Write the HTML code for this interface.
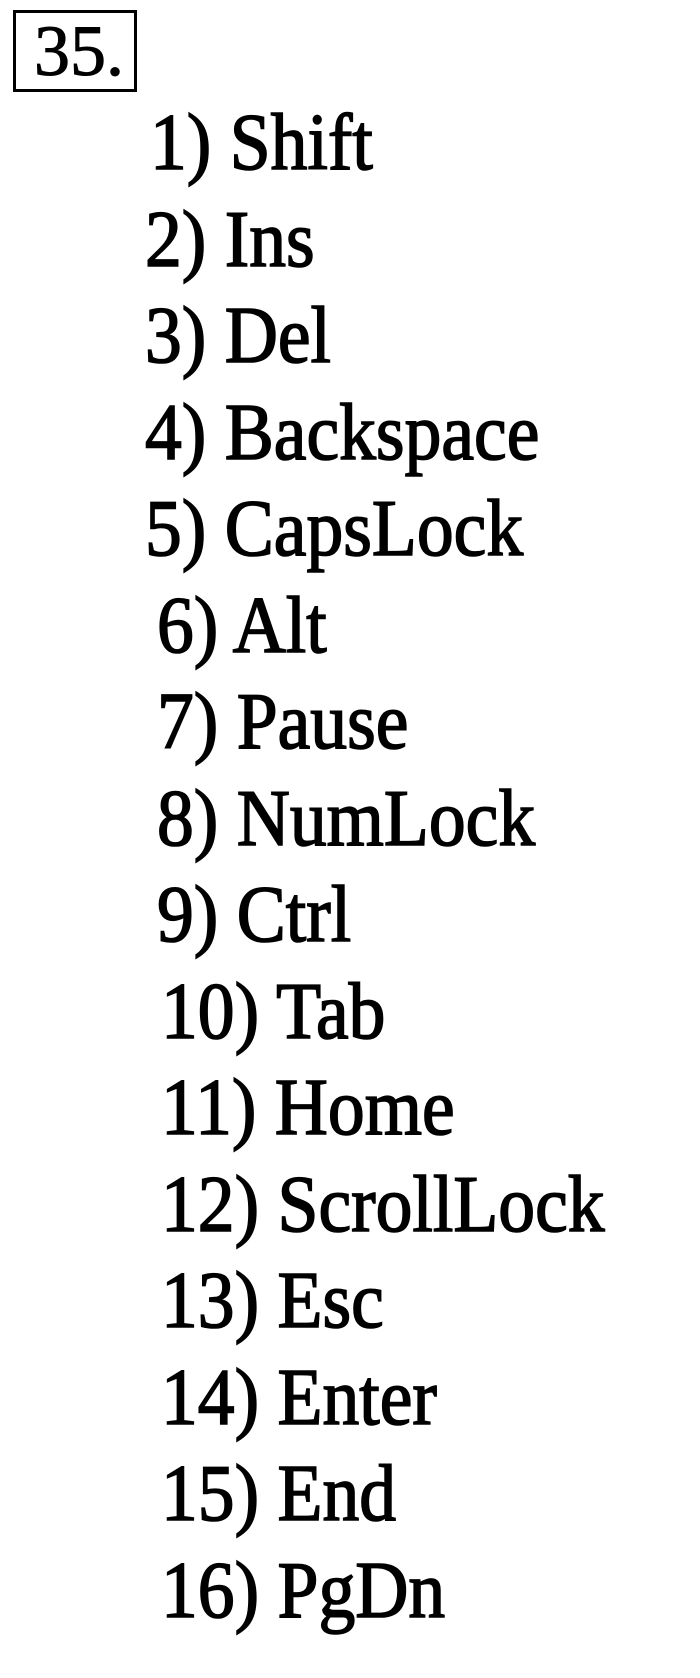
<!DOCTYPE html>
<html><head><style>
body{margin:0;width:700px;height:1678px;background:#fff;position:relative;overflow:hidden;font-family:"Liberation Serif",serif;color:#000}
.b{position:absolute;left:13px;top:10px;width:118px;height:76px;border:3px solid #000}
.n{position:absolute;left:34px;top:51px;font-size:72px;line-height:0;-webkit-text-stroke:1px #000}
.l{position:absolute;font-size:80px;line-height:0;-webkit-text-stroke:1.6px #000;white-space:nowrap;transform:scaleX(0.92);transform-origin:0 0}
</style></head><body>
<div class="b"></div>
<div class="n">35.</div>
<div class="l" style="left:150px;top:143px">1) Shift</div>
<div class="l" style="left:145px;top:240px">2) Ins</div>
<div class="l" style="left:145px;top:336px">3) Del</div>
<div class="l" style="left:145px;top:433px">4) Backspace</div>
<div class="l" style="left:145px;top:529px">5) CapsLock</div>
<div class="l" style="left:157px;top:626px">6) Alt</div>
<div class="l" style="left:157px;top:722px">7) Pause</div>
<div class="l" style="left:157px;top:819px">8) NumLock</div>
<div class="l" style="left:157px;top:915px">9) Ctrl</div>
<div class="l" style="left:161px;top:1012px">10) Tab</div>
<div class="l" style="left:161px;top:1108px">11) Home</div>
<div class="l" style="left:161px;top:1205px">12) ScrollLock</div>
<div class="l" style="left:161px;top:1301px">13) Esc</div>
<div class="l" style="left:161px;top:1398px">14) Enter</div>
<div class="l" style="left:161px;top:1494px">15) End</div>
<div class="l" style="left:161px;top:1591px">16) PgDn</div>
</body></html>
